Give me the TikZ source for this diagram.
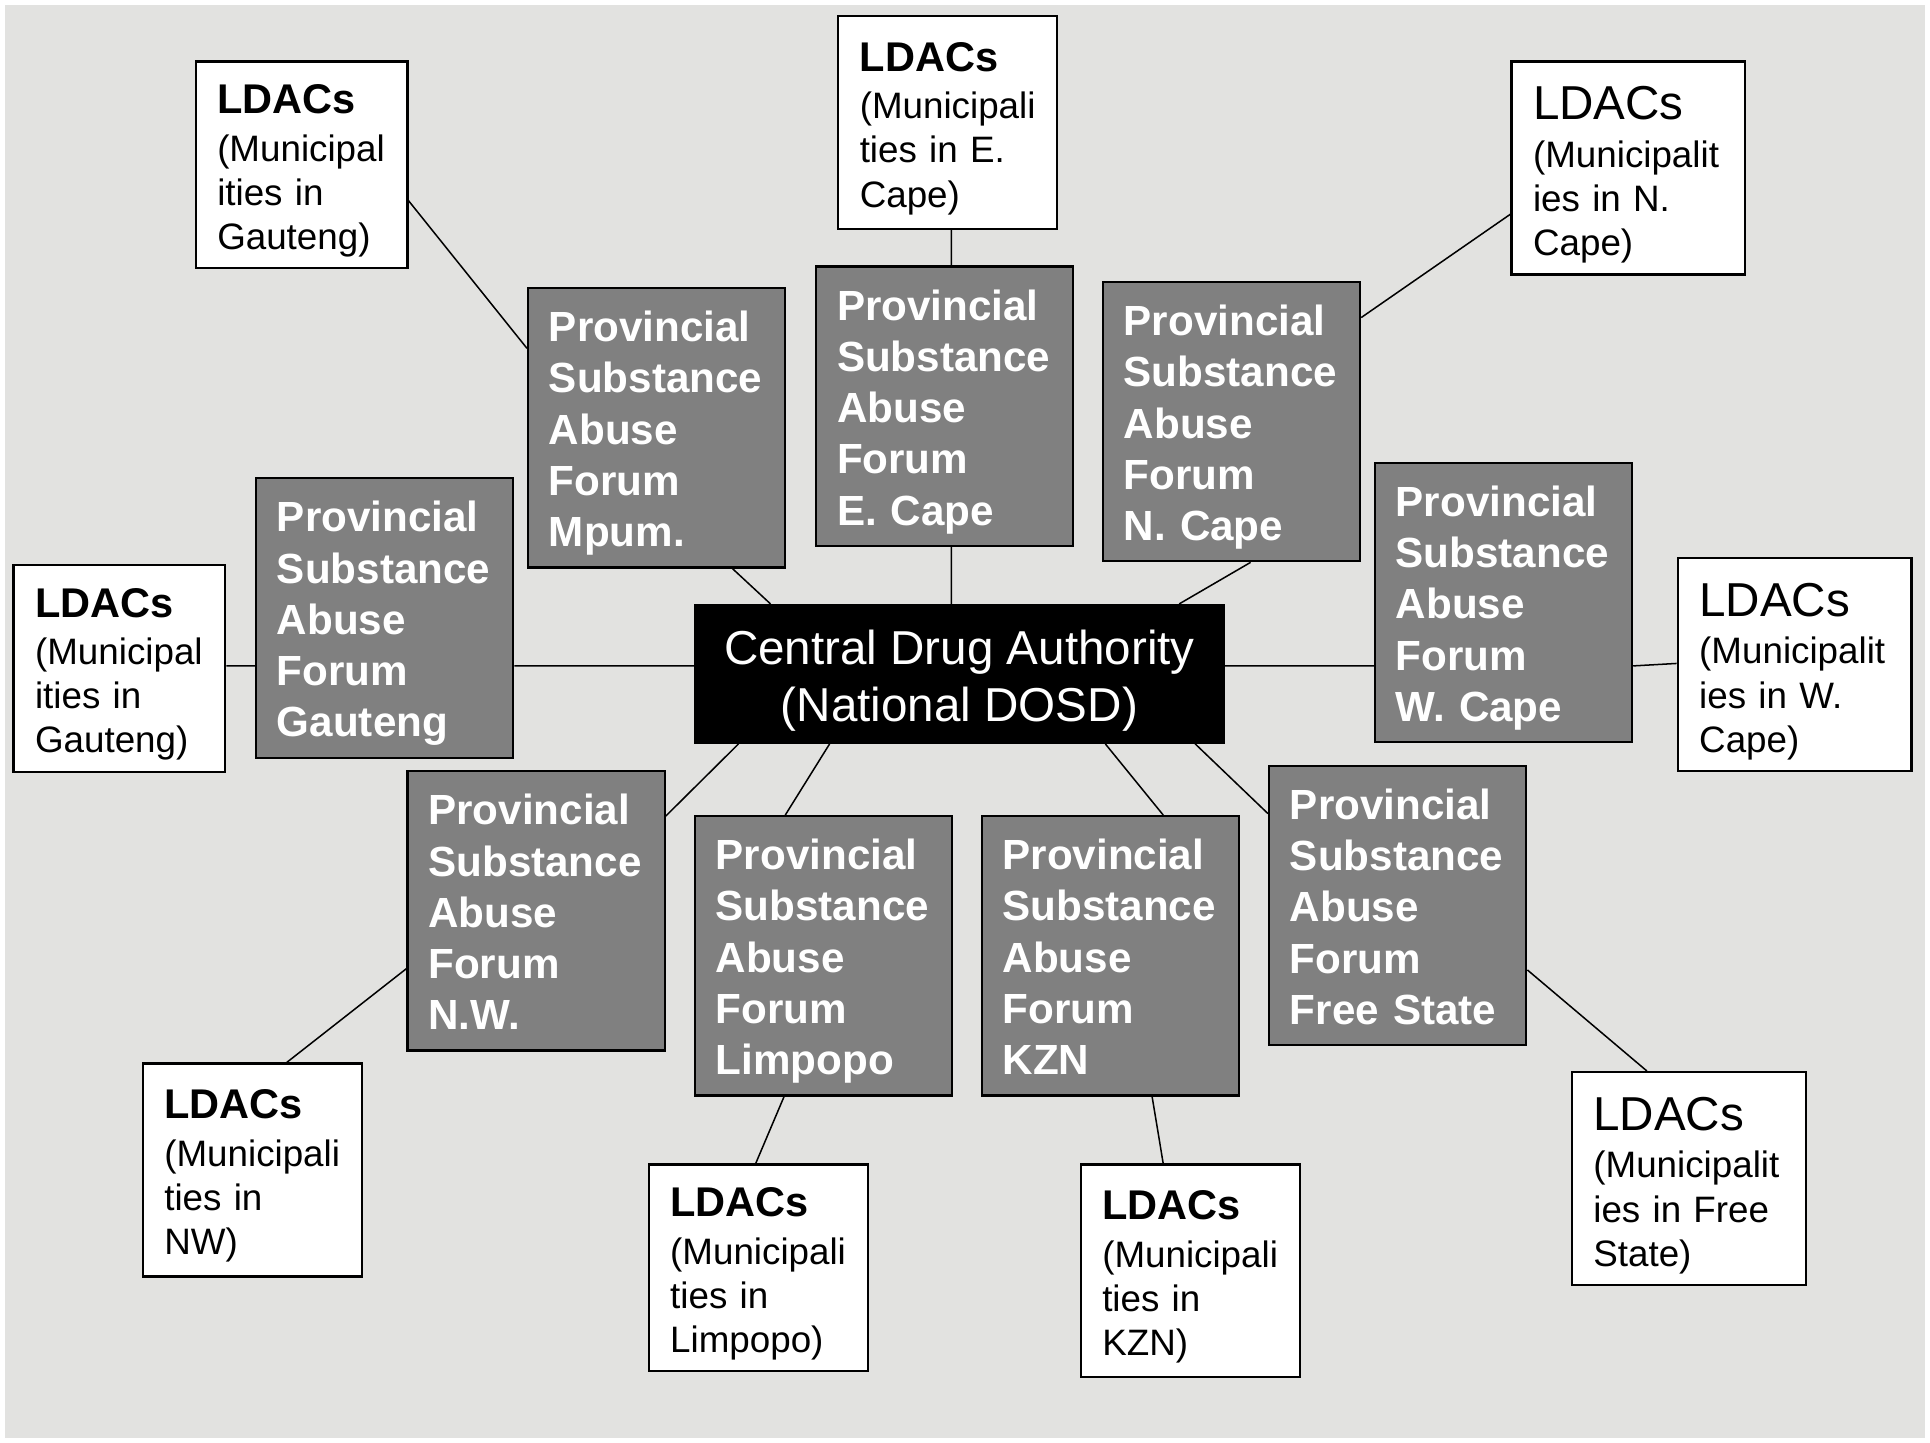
\documentclass[tikz,border=0pt]{standalone}
\usepackage{fontspec}
\setmainfont{Liberation Sans}
\definecolor{forumgray}{RGB}{128,128,128}
\definecolor{paper}{RGB}{226,226,224}
\hyphenpenalty=10000

\begin{document}
\begin{tikzpicture}[
  forum/.style={draw, line width=1pt, fill=forumgray, text=white, align=left,
    text width=3.5cm, inner xsep=0.34cm, minimum width=4.18cm, minimum height=4.54cm,
    font=\fontsize{19.5}{23.7}\selectfont\bfseries},
  ldac/.style={draw, line width=1pt, fill=white, align=left, inner xsep=0.35cm,
    text width=2.86cm, minimum height=3.46cm, font=\fontsize{17}{20.4}\selectfont},
  ldacwide/.style={ldac, text width=3.1cm},
  cda/.style={draw, fill=black, text=white, align=center, minimum width=8.62cm,
    minimum height=2.26cm, font=\fontsize{22}{26.6}\selectfont},
  link/.style={line width=0.7pt},
]

% background
\fill[white] (0,0) rectangle (31.36,-23.44);
\fill[paper] (0.08,-0.08) rectangle (31.28,-23.36);

\node (cda) [cda] at (15.59,-10.95)
  {\rule{0pt}{22.3pt}Central Drug Authority\\(National DOSD)};

\foreach \n/\x/\y/\p in {Mp/10.67/-6.95/Mpum., EC/15.35/-6.60/E. Cape,
    NC/20.01/-6.85/N. Cape, Gt/6.25/-10.04/Gauteng, WC/24.43/-9.79/W. Cape,
    NW/8.71/-14.80/N.W., Lp/13.38/-15.53/Limpopo, KZN/18.04/-15.53/KZN,
    FS/22.71/-14.71/Free State} {
  \node (psaf\n) [forum] at (\x,\y)
    {\rule{0pt}{19.4pt}Provincial\\Substance\\Abuse\\Forum\\\p\rule[-4.2pt]{0pt}{0pt}};
}

\node (ldacGtTop) [ldac, text width=2.74cm, minimum height=3.36cm] at (4.90,-2.68)
  {{\fontsize{19.2}{20.4}\selectfont\bfseries\rule{0pt}{19pt}LDACs}\\[1.5pt](Municipal\\ities in\\Gauteng)};
\node (ldacEC) [ldac] at (15.40,-1.99)
  {{\fontsize{19.2}{20.4}\selectfont\bfseries\rule{0pt}{19pt}LDACs}\\[1.5pt](Municipali\\ties in E.\\Cape)};
\node (ldacNC) [ldacwide] at (26.46,-2.73)
  {{\fontsize{22}{24}\selectfont\rule{0pt}{21.8pt}LDACs}\\[1.5pt](Municipalit\\ies in N.\\Cape)};
\node (ldacGtLeft) [ldac, text width=2.74cm, minimum height=3.36cm] at (1.94,-10.86)
  {{\fontsize{19.2}{20.4}\selectfont\bfseries\rule{0pt}{19pt}LDACs}\\[1.5pt](Municipal\\ities in\\Gauteng)};
\node (ldacWC) [ldacwide] at (29.16,-10.80)
  {{\fontsize{22}{24}\selectfont\rule{0pt}{21.8pt}LDACs}\\[1.5pt](Municipalit\\ies in W.\\Cape)};
\node (ldacNW) [ldac] at (4.10,-19.01)
  {{\fontsize{19.2}{20.4}\selectfont\bfseries\rule{0pt}{19pt}LDACs}\\[1.5pt](Municipali\\ties in\\NW)};
\node (ldacLp) [ldac, minimum height=3.36cm] at (12.32,-20.60)
  {{\fontsize{19.2}{20.4}\selectfont\bfseries\rule{0pt}{19pt}LDACs}\\[1.5pt](Municipali\\ties in\\Limpopo)};
\node (ldacKZN) [ldac] at (19.34,-20.65)
  {{\fontsize{19.2}{20.4}\selectfont\bfseries\rule{0pt}{19pt}LDACs}\\[1.5pt](Municipali\\ties in\\KZN)};
\node (ldacFS) [ldacwide] at (27.44,-19.15)
  {{\fontsize{22}{24}\selectfont\rule{0pt}{21.8pt}LDACs}\\[1.5pt](Municipalit\\ies in Free\\State)};

% upper ring
\draw[link] ([yshift=-0.58cm]ldacGtTop.east) -- ([yshift=1.29cm]psafMp.west);
\draw[link] ([xshift=0.06cm]ldacEC.south) -- ([xshift=0.11cm]psafEC.north);
\draw[link] ([yshift=-0.75cm]ldacNC.west) -- ([yshift=1.69cm]psafNC.east);
\draw[link] ([xshift=1.23cm]psafMp.south) -- ([xshift=-3.07cm]cda.north);
\draw[link] ([xshift=0.11cm]psafEC.south) -- ([xshift=-0.13cm]cda.north);
\draw[link] ([xshift=0.31cm]psafNC.south) -- ([xshift=3.57cm]cda.north);

% middle row
\draw[link] ([yshift=0.04cm]ldacGtLeft.east) -- ([yshift=-0.78cm]psafGt.west);
\draw[link] ([yshift=-0.78cm]psafGt.east) -- ([yshift=0.13cm]cda.west);
\draw[link] ([yshift=0.13cm]cda.east) -- ([yshift=-1.03cm]psafWC.west);
\draw[link] ([yshift=-1.03cm]psafWC.east) -- ([yshift=0.02cm]ldacWC.west);

% lower ring
\draw[link] ([xshift=-3.59cm]cda.south) -- ([yshift=1.54cm]psafNW.east);
\draw[link] ([xshift=-2.11cm]cda.south) -- ([xshift=-0.62cm]psafLp.north);
\draw[link] ([xshift=2.37cm]cda.south) -- ([xshift=0.86cm]psafKZN.north);
\draw[link] ([xshift=3.83cm]cda.south) -- ([yshift=1.49cm]psafFS.west);
\draw[link] ([yshift=-0.94cm]psafNW.west) -- ([xshift=0.56cm]ldacNW.north);
\draw[link] ([xshift=-0.64cm]psafLp.south) -- ([xshift=-0.04cm]ldacLp.north);
\draw[link] ([xshift=0.68cm]psafKZN.south) -- ([xshift=-0.44cm]ldacKZN.north);
\draw[link] ([yshift=-1.05cm]psafFS.east) -- ([xshift=-0.68cm]ldacFS.north);

\end{tikzpicture}
\end{document}
